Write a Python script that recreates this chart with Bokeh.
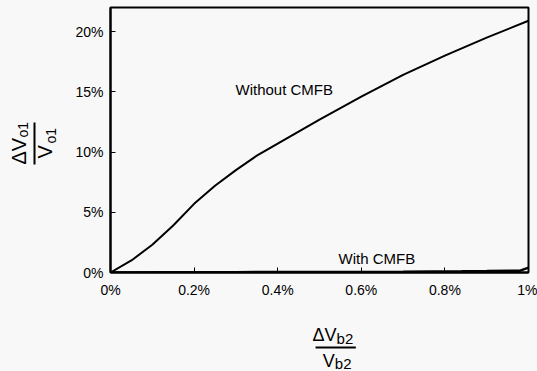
import math
from bokeh.plotting import figure
from bokeh.layouts import row, column
from bokeh.models import Range1d, FixedTicker, Label
from bokeh.core.properties import value
from bokeh.embed import file_html
from bokeh.resources import INLINE

# ---- data ----
x_ticks = [0, 0.2, 0.4, 0.6, 0.8, 1]
x_tick_labels = ["0%", "0.2%", "0.4%", "0.6%", "0.8%", "1%"]
y_ticks = [0, 5, 10, 15, 20]
y_tick_labels = ["0%", "5%", "10%", "15%", "20%"]

without_x = [0, 0.05, 0.1, 0.15, 0.2, 0.25, 0.3, 0.35, 0.4, 0.5, 0.6, 0.7, 0.8, 0.9, 1.0]
without_y = [0, 1.0, 2.3, 3.9, 5.7, 7.2, 8.5, 9.7, 10.7, 12.7, 14.6, 16.4, 18.0, 19.5, 20.9]
with_x = [0, 0.13, 0.3, 0.5, 0.7, 0.84, 0.9, 0.98, 1.0]
with_y = [0, 0.02, 0.03, 0.04, 0.06, 0.1, 0.12, 0.15, 0.4]

series_labels = ["Without CMFB", "With CMFB"]

FONT = "Liberation Sans"
BG = "#f8f8f8"

W, H = 537, 371
LW = 60          # width of the left strip holding the y label
MH = 300         # height of the main plot
X0, X1 = 0, 1
Y0, Y1 = 0, 22

# frame placement on page (px)
FL, FR, FT, FB = 110, 528, 7, 273


def dx(px):
    return X0 + (px - FL) / (FR - FL) * (X1 - X0)


def dy(py):
    return Y0 + (FB - py) / (FB - FT) * (Y1 - Y0)


def plain(fig):
    fig.background_fill_color = BG
    fig.border_fill_color = BG
    fig.outline_line_color = None
    fig.xgrid.visible = False
    fig.ygrid.visible = False


# ---- main plot ----
p = figure(width=W - LW, height=MH, x_range=Range1d(X0, X1), y_range=Range1d(Y0, Y1),
           output_backend="svg", toolbar_location=None,
           min_border_left=FL - LW, min_border_right=W - FR, min_border_top=FT,
           min_border_bottom=MH - FB)
plain(p)
p.outline_line_color = "black"
p.outline_line_width = 2

for ax, ticks, labels in ((p.xaxis[0], x_ticks, x_tick_labels), (p.yaxis[0], y_ticks, y_tick_labels)):
    ax.ticker = FixedTicker(ticks=ticks)
    ax.major_label_overrides = {t: l for t, l in zip(ticks, labels)}
    ax.axis_line_width = 2
    ax.axis_line_color = "black"
    ax.major_tick_in = 5
    ax.major_tick_out = 0
    ax.major_tick_line_width = 1
    ax.minor_tick_line_color = None
    ax.major_label_text_font = FONT
    ax.major_label_text_font_size = "14px"
    ax.major_label_text_color = "black"

p.xaxis.major_label_standoff = 9
p.yaxis.major_label_standoff = 7

p.line(without_x, without_y, line_color="black", line_width=2)
p.line(with_x, with_y, line_color="black", line_width=2.5)

p.add_layout(Label(x=dx(235), y=dy(89), text=series_labels[0], text_font=FONT,
                   text_font_size="15px", text_baseline="middle", text_color="black"))
p.add_layout(Label(x=dx(338), y=dy(259), text=series_labels[1], text_font=FONT,
                   text_font_size="15px", text_baseline="middle", text_color="black"))


def txt(fig, px, py, text, size, align="left", angle=0.0):
    fig.text(x=[px], y=[H - py], text=[text], angle=angle, text_font=value(FONT),
             text_font_size=size, text_align=align, text_baseline="middle", text_color="black")


# ---- left strip: y axis label  ΔV_o1 / V_o1 (rotated) ----
left = figure(width=LW, height=H, x_range=Range1d(0, LW), y_range=Range1d(0, H),
              output_backend="svg", toolbar_location=None,
              x_axis_location=None, y_axis_location=None, min_border=0)
plain(left)
a = math.pi / 2
txt(left, 18, 164, "ΔV", "20px", angle=a)
txt(left, 22, 137, "o1", "14px", angle=a)
left.line([34, 34], [H - 122, H - 164], line_color="black", line_width=2)
txt(left, 44, 158, "V", "20px", angle=a)
txt(left, 50, 143, "o1", "14px", angle=a)

# ---- bottom strip: x axis label  ΔV_b2 / V_b2 ----
bottom = figure(width=W - LW, height=H - MH, x_range=Range1d(LW, W), y_range=Range1d(0, H - MH),
                output_backend="svg", toolbar_location=None,
                x_axis_location=None, y_axis_location=None, min_border=0)
plain(bottom)
txt(bottom, 318, 334, "ΔV", "18px", "right")
txt(bottom, 318, 338, "b2", "15px")
bottom.line([294, 340], [H - 347, H - 347], line_color="black", line_width=2)
txt(bottom, 316, 360, "V", "18px", "right")
txt(bottom, 316, 363, "b2", "15px")

layout = row(left, column(p, bottom, spacing=0), spacing=0)
layout.styles = {"background-color": BG}

open("out.html", "w").write(file_html(layout, INLINE))
